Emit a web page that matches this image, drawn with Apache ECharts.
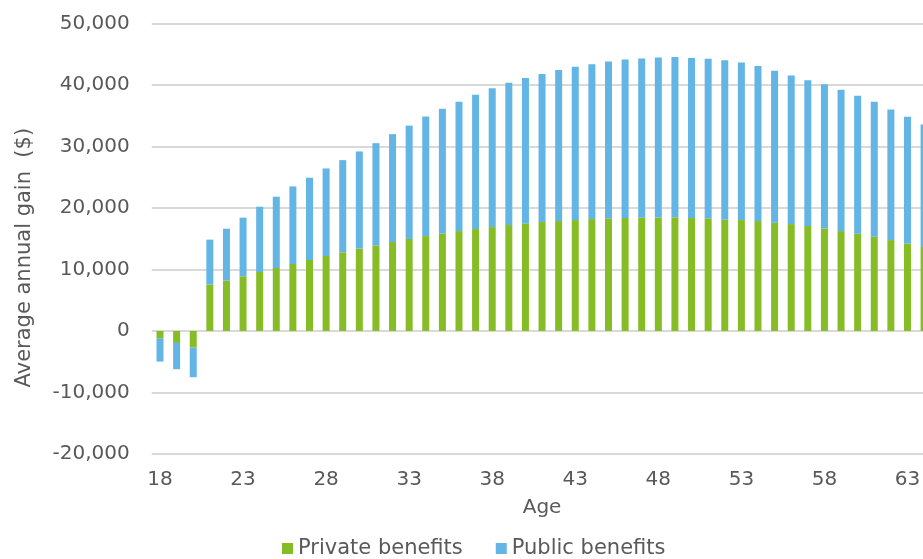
<!DOCTYPE html>
<html>
<head>
<meta charset="utf-8">
<script src="https://cdn.jsdelivr.net/npm/echarts@6/dist/echarts.min.js"></script>
<style>
html,body{margin:0;padding:0;background:#fff;}
#c{width:923px;height:559px;}
</style>
</head>
<body>
<div id="c"></div>
<script>
const ages = [18,19,20,21,22,23,24,25,26,27,28,29,30,31,32,33,34,35,36,37,38,39,40,41,42,43,44,45,46,47,48,49,50,51,52,53,54,55,56,57,58,59,60,61,62,63,64];
const privateBenefits = [-1190,-1950,-2710,7530,8180,8880,9580,10230,10880,11530,12180,12780,13380,13910,14450,14950,15420,15860,16230,16560,16880,17210,17480,17700,17860,18020,18180,18290,18350,18400,18430,18460,18350,18290,18130,18020,17860,17600,17370,17050,16670,16230,15810,15320,14770,14190,13640];
const publicBenefits = [-3790,-4270,-4810,7310,8440,9530,10610,11590,12610,13370,14230,14980,15790,16610,17530,18420,19430,20240,21010,21810,22570,23110,23650,24080,24570,24900,25170,25490,25760,25870,26000,26080,26030,25930,25860,25600,25220,24670,24140,23700,23430,22960,22400,21920,21220,20620,19920];
const yTicks = {min:-20000, max:50000, step:10000};

const font = 'DejaVu Sans';
const txt = '#595959';
const chart = echarts.init(document.getElementById('c'), null, {renderer:'canvas'});
chart.setOption({
  animation:false,
  textStyle:{fontFamily:font},
  grid:{left:151.7, width:780.7, top:23.3, height:430.7, containLabel:false, outerBoundsMode:'none'},
  legend:{
    left:277, top:533,
    itemWidth:11, itemHeight:11, itemGap:33,
    icon:'rect',
    textStyle:{fontFamily:font, fontSize:21, color:txt},
    data:['Private benefits','Public benefits']
  },
  xAxis:{
    type:'category',
    data:ages,
    name:'Age',
    nameLocation:'middle',
    nameGap:44,
    nameTextStyle:{fontFamily:font, fontSize:20, color:txt},
    axisLine:{show:false, onZero:false},
    axisTick:{show:false},
    axisLabel:{interval:4, fontFamily:font, fontSize:20, color:txt, margin:16},
    splitLine:{show:false}
  },
  yAxis:{
    type:'value',
    min:yTicks.min, max:yTicks.max, interval:yTicks.step,
    name:'Average annual gain  ($)',
    nameLocation:'middle',
    nameGap:117,
    nameTextStyle:{fontFamily:font, fontSize:21, color:txt, padding:[0,38,0,0]},
    axisLine:{show:false},
    axisTick:{show:false},
    axisLabel:{fontFamily:font, fontSize:20, color:txt, margin:22,
      formatter:v=>v.toLocaleString('en-US')},
    splitLine:{lineStyle:{color:'#D9D9D9', width:2}}
  },
  series:[
    {name:'Private benefits', type:'bar', stack:'a', barWidth:7,
     itemStyle:{color:'#86BC25'}, data:privateBenefits},
    {name:'Public benefits', type:'bar', stack:'a', barWidth:7,
     itemStyle:{color:'#62B5E5'}, data:publicBenefits}
  ]
});
</script>
</body>
</html>
